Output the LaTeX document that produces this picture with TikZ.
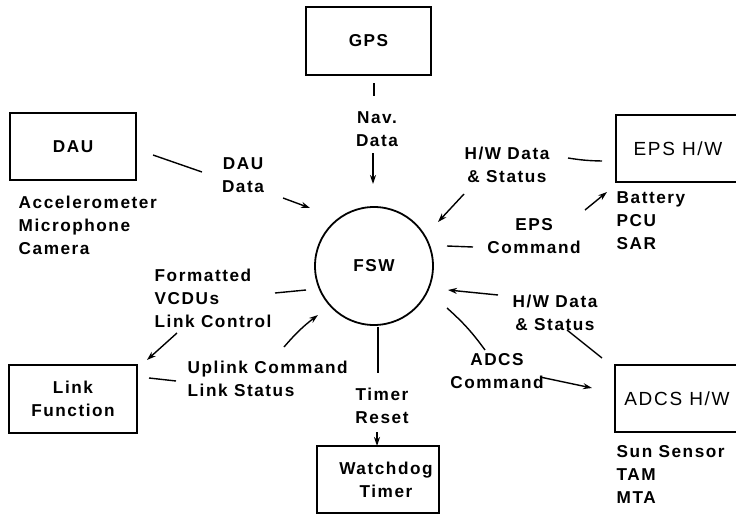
\documentclass[tikz,border=0pt]{standalone}
\usepackage{fontspec}
\setmainfont{Liberation Sans}[LetterSpace=9]
\usetikzlibrary{arrows.meta}

\begin{document}
\begin{tikzpicture}[x=1pt, y=-1pt, line width=1.4pt, >={Stealth[length=9pt, width=6pt]},
   font=\fontsize{17.2}{23}\selectfont\bfseries,
   box/.style={draw, line width=1.8pt, inner sep=0pt, align=center},
   hwbox/.style={box, minimum width=124pt, minimum height=67pt, font=\fontsize{19}{23}\selectfont},
   lbl/.style={align=center, inner sep=0pt},
   lst/.style={align=left, anchor=west, inner sep=0pt}]
   \useasboundingbox (0,0) rectangle (736,514);

   % units and the centre
   \node[circle, draw, line width=1.8pt, minimum size=118pt, inner sep=0pt] (fsw) at (374,266) {FSW};
   \node[box, minimum width=125pt, minimum height=68pt] (gps) at (368.5,41) {GPS};
   \node[box, minimum width=126pt, minimum height=67pt] (dau) at (73,146.5) {DAU};
   \node[hwbox] (eps) at (678,148.5) {EPS H/W};
   \node[hwbox] (adcs) at (677,398.5) {ADCS H/W};
   \node[box, minimum width=128pt, minimum height=68pt] (link) at (73,399) {Link\\Function};
   \node[box, minimum width=122pt, minimum height=67pt,
         label={[lbl, xshift=8pt]center:Watchdog\\Timer}] (wdt) at (378,479.5) {};

   % what flows between them
   \node[lbl] (nav) at (377,129) {Nav.\\Data};
   \node[lbl] (dau_data) at (243,175) {DAU\\Data};
   \node[lbl] (eps_stat) at (507,164.5) {H/W Data\\\& Status};
   \node[lbl] (eps_cmd) at (534,236) {EPS\\Command};
   \node[lbl] (adcs_stat) at (555,312.5) {H/W Data\\\& Status};
   \node[lbl] (adcs_cmd) at (497,371) {ADCS\\Command};
   \node[lbl] (timer) at (382,406) {Timer\\Reset};
   \node[lst] (uplink) at (187,378.5) {Uplink Command\\Link Status};
   \node[lst] (downlink) at (154,298.5) {Formatted\\VCDUs\\Link Control};

   % hardware lists
   \node[lst] (dau_list) at (18,225) {Accelerometer\\Microphone\\Camera};
   \node[lst] (eps_list) at (616,221) {Battery\\PCU\\SAR};
   \node[lst] (adcs_list) at (616,474.5) {Sun Sensor\\TAM\\MTA};

   \path (374,83) coordinate (gps_a)   (374,96) coordinate (gps_b)
         (373,153) coordinate (nav_a)  (373,184) coordinate (nav_b)
         (153,155) coordinate (dau_a)  (202,172) coordinate (dau_b)
         (283,198) coordinate (dau_c)  (310,208) coordinate (dau_d)
         (602,161) coordinate (eps_a)  (568,158) coordinate (eps_b)
         (464,194) coordinate (eps_c)  (438,222) coordinate (eps_d)
         (585,210) coordinate (eps_e)  (607,192) coordinate (eps_f)
         (473,247) coordinate (eps_g)  (447,246) coordinate (eps_h)
         (602,358) coordinate (adcs_a) (567,330) coordinate (adcs_b)
         (498,295) coordinate (adcs_c) (448,290) coordinate (adcs_d)
         (447,308) coordinate (adcs_e) (485,350) coordinate (adcs_f)
         (540,377) coordinate (adcs_g) (592,388) coordinate (adcs_h)
         (378,327) coordinate (wdt_a)  (378,373) coordinate (wdt_b)
         (377,432) coordinate (wdt_c)  (377,446) coordinate (wdt_d)
         (306,290) coordinate (link_a) (275,293) coordinate (link_b)
         (177,333) coordinate (link_c) (147,360) coordinate (link_d)
         (149,378) coordinate (link_e) (176,381) coordinate (link_f)
         (284,347) coordinate (link_g) (318,315) coordinate (link_h);

   \path[->]
   (gps_a) edge [-] (gps_b)
   (nav_a) edge (nav_b)
   (dau_a) edge [-] (dau_b)
   (dau_c) edge (dau_d)
   (eps_a) edge [-, bend left=4] (eps_b)
   (eps_c) edge (eps_d)
   (eps_e) edge (eps_f)
   (eps_g) edge [-] (eps_h)
   (adcs_a) edge [-] (adcs_b)
   (adcs_c) edge (adcs_d)
   (adcs_e) edge [-, bend left=6] (adcs_f)
   (adcs_g) edge (adcs_h)
   (wdt_a) edge [-] (wdt_b)
   (wdt_c) edge (wdt_d)
   (link_a) edge [-] (link_b)
   (link_c) edge (link_d)
   (link_e) edge [-] (link_f)
   (link_g) edge [bend left=6] (link_h)
    ;
\end{tikzpicture}
\end{document}
